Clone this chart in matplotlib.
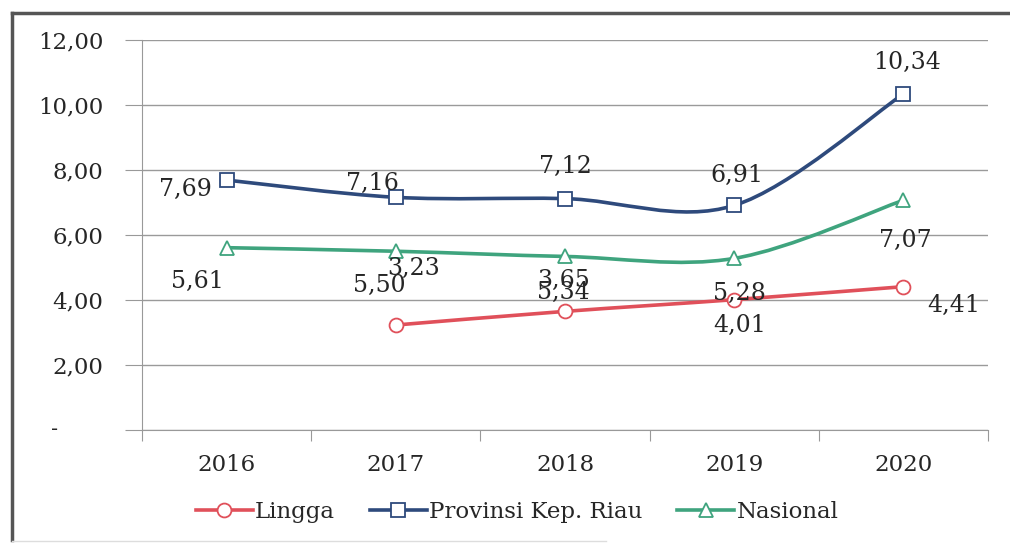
import numpy as np
import matplotlib.pyplot as plt
from matplotlib.path import Path
from matplotlib.patches import PathPatch
from matplotlib.lines import Line2D

# data
years = ['2016', '2017', '2018', '2019', '2020']
lingga = [np.nan, 3.23, 3.65, 4.01, 4.41]
riau = [7.69, 7.16, 7.12, 6.91, 10.34]
nasional = [5.61, 5.50, 5.34, 5.28, 7.07]
yticks = [0, 2, 4, 6, 8, 10, 12]

# label offsets in pixels (dx, dy up)
off_riau = [(-41, -9), (-23, 14), (0, 32), (3, 30), (4, 31)]
off_nas = [(-29, -34), (-16, -34), (-2, -36), (5, -35), (2, -40)]
off_lin = [None, (18, 57), (-1, 31), (5, -26), (50, -19)]

c_red = '#e0505a'
c_blue = '#2e4a7c'
c_green = '#3fa47e'
c_txt = '#262626'
serif = 'DejaVu Serif'


def smooth_path(x, y):
    # excel-like smoothed line: catmull-rom as cubic bezier
    x = list(x)
    y = list(y)
    n = len(x)
    verts = [(x[0], y[0])]
    codes = [Path.MOVETO]
    for i in range(n - 1):
        p0 = (x[i - 1], y[i - 1]) if i > 0 else (x[i], y[i])
        p1 = (x[i], y[i])
        p2 = (x[i + 1], y[i + 1])
        p3 = (x[i + 2], y[i + 2]) if i + 2 < n else p2
        c1 = (p1[0] + (p2[0] - p0[0]) / 6, p1[1] + (p2[1] - p0[1]) / 6)
        c2 = (p2[0] - (p3[0] - p1[0]) / 6, p2[1] - (p3[1] - p1[1]) / 6)
        verts += [c1, c2, p2]
        codes += [Path.CURVE4] * 3
    return Path(verts, codes)


fig = plt.figure(figsize=(10.1, 5.44), dpi=100)
ax = fig.add_axes([142 / 1010, 1 - 430 / 544, 846 / 1010, 390 / 544])

xpos = np.arange(len(years)) + 0.5
series = [(lingga, c_red, 'o', 'Lingga', off_lin),
          (riau, c_blue, 's', 'Provinsi Kep. Riau', off_riau),
          (nasional, c_green, '^', 'Nasional', off_nas)]

handles = []
for vals, col, mk, name, offs in series:
    v = np.array(vals, dtype=float)
    ok = ~np.isnan(v)
    ax.add_patch(PathPatch(smooth_path(xpos[ok], v[ok]), fill=False,
                           edgecolor=col, lw=2.6, zorder=3, capstyle='round'))
    ax.plot(xpos[ok], v[ok], ls='none', marker=mk, ms=10, mfc='white',
            mec=col, mew=1.3, zorder=4)
    for xi, vi, o in zip(xpos, v, offs):
        if np.isnan(vi):
            continue
        ax.annotate(f'{vi:.2f}'.replace('.', ','), (xi, vi), xytext=o,
                    textcoords='offset pixels', ha='center', va='center',
                    fontsize=17, family=serif, color=c_txt, zorder=5)
    handles.append(Line2D([], [], color=col, lw=2.6, marker=mk, ms=10,
                          mfc='white', mec=col, mew=1.3))

ax.set_xlim(0, 5)
ax.set_ylim(0, 12)
ax.set_yticks(yticks)
ax.set_yticklabels([''] + [f'{t:.2f}'.replace('.', ',') for t in yticks[1:]],
                   family=serif, fontsize=16.5, color=c_txt)
ax.text(-0.103, 0, '-', transform=ax.get_yaxis_transform(), ha='center',
        va='center', fontsize=14, color=c_txt)
ax.tick_params(axis='y', length=12, color='#999999', pad=16)
ax.grid(axis='y', color='#9a9a9a', lw=1)

ax.set_xticks(range(6))
ax.set_xticklabels([])
ax.set_xticks(xpos, minor=True)
ax.set_xticklabels(years, minor=True, family=serif,
                   fontsize=16.5, color=c_txt)
ax.tick_params(axis='x', which='major', length=8, color='#999999')
ax.tick_params(axis='x', which='minor', length=0, pad=17)

for s in ['top', 'right']:
    ax.spines[s].set_visible(False)
ax.spines['left'].set_color('#999999')
ax.spines['bottom'].set_color('#999999')
ax.set_axisbelow(True)

fig.legend(handles, [s[3] for s in series], loc='center',
           bbox_to_anchor=(517 / 1010, 1 - 512 / 544), ncol=3, frameon=False,
           prop={'family': serif, 'size': 16.5},
           handlelength=2.5, handletextpad=0.1, columnspacing=1.5)
for t in fig.legends[0].get_texts():
    t.set_color(c_txt)

# outer frame of scanned chart
fig.add_artist(Line2D([12 / 1010, 12 / 1010], [1 - 540 / 544, 1 - 13 / 544],
                      color='#555555', lw=2.5))
fig.add_artist(Line2D([12 / 1010, 1.0], [1 - 13 / 544, 1 - 13 / 544],
                      color='#555555', lw=2.5))
fig.add_artist(Line2D([12 / 1010, 0.6], [1 - 541 / 544, 1 - 541 / 544],
                      color='#dddddd', lw=1))

fig.savefig('out.png', dpi=100)
